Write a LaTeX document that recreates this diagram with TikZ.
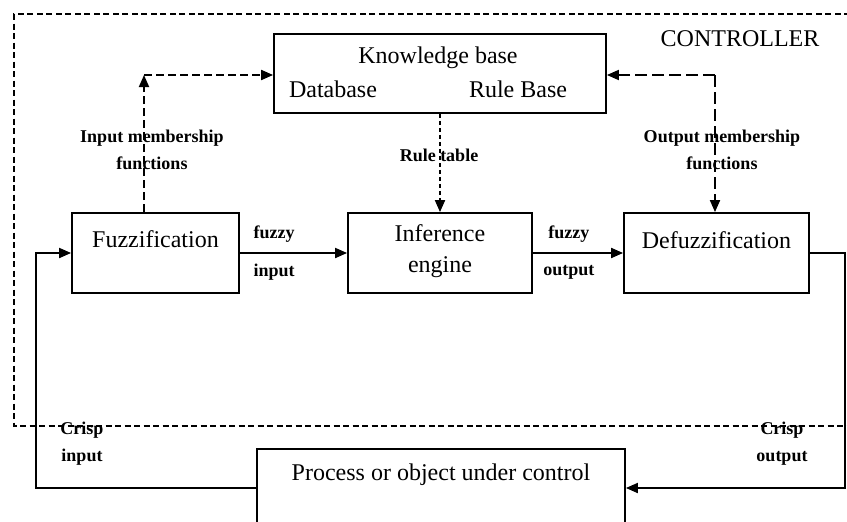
\documentclass[tikz,border=0pt]{standalone}
\usepackage{fontspec}
\setmainfont{Liberation Serif}
\usetikzlibrary{arrows.meta,positioning}
\begin{document}
\begin{tikzpicture}[x=1pt,y=-1pt,
  box/.style={draw, line width=1.8pt, rectangle, inner sep=0pt},
  maintext/.style={font=\fontsize{24}{31}\selectfont, align=center, inner sep=0pt},
  lab/.style={font=\bfseries\fontsize{18}{27}\selectfont, align=center, inner sep=0pt},
  arr/.style={line width=1.8pt, -{Triangle[length=12pt,width=10pt]}},
  ctrlline/.style={line width=1.4pt, dash pattern=on 6pt off 3.5pt},
  dashin/.style={line width=1.8pt, dash pattern=on 8pt off 4pt, -{Triangle[length=12pt,width=10pt]}},
  dashout/.style={line width=1.8pt, dash pattern=on 12pt off 5pt, -{Triangle[length=12pt,width=10pt]}},
  dashrule/.style={line width=1.8pt, dash pattern=on 4pt off 3pt, -{Triangle[length=12pt,width=10pt]}}
]
\useasboundingbox (0,0) rectangle (847,522);
\clip (0,0) rectangle (847,522);
\fill[white] (0,0) rectangle (847,522);

% controller outline
\draw[ctrlline] (850,14) -- (14,14) -- (14,426) -- (850,426);
\node[maintext] (ctrl) at (740,39) {CONTROLLER};

% knowledge base
\node[box, minimum width=332pt, minimum height=79pt] (kb) at (440,73.5) {};
\node[maintext] (kbt) at (438,58) {Knowledge base};
\node[maintext] (dbt) at (333,89) {Database};
\node[maintext] (rbt) at (518,89) {Rule Base};

% main blocks
\node[box, minimum width=167pt, minimum height=80pt] (fuzz) at (155.5,253) {};
\node[maintext] (fuzzt) at (155.5,239) {Fuzzification};
\node[box, minimum width=184pt, minimum height=80pt] (inf) at (440,253) {};
\node[maintext] (inft) at (440,251.5) {Inference\\engine};
\node[box, minimum width=185pt, minimum height=80pt] (defuzz) at (716.5,253) {};
\node[maintext] (defuzzt) at (716.5,240) {Defuzzification};

% process
\node[box, anchor=north, minimum width=368pt, minimum height=150pt] (proc) at (441,448) {};
\node[maintext] (proct) at (441,475) {Process or object under control};

% coordinates
\coordinate (inC) at (144,75);
\coordinate (outC) at (715,75);
\coordinate (inL) at (36,488);
\coordinate (outR) at (845,488);

% membership connectors
\draw[dashin] (inC |- fuzz.north) -- (inC);
\draw[dashin] (inC) -- (kb.west |- inC);
\draw[dashout] (outC) -- (kb.east |- outC);
\draw[dashout] (outC) -- (outC |- defuzz.north);
\draw[dashrule] (kb.south) -- (inf.north);

\node[lab] (inml) at (152,150) {Input membership\\functions};
\node[lab] (outml) at (722,150) {Output membership\\functions};
\node[lab] (rtl) at (439,155) {Rule table};

% main flow
\draw[arr] (fuzz.east) -- node[lab, pos=0.32, yshift=19pt] (fzl) {fuzzy}
                          node[lab, pos=0.32, yshift=-19pt] (inl) {input} (inf.west);
\draw[arr] (inf.east) -- node[lab, pos=0.4, yshift=19pt] (fzo) {fuzzy}
                         node[lab, pos=0.4, yshift=-19pt] (outl) {output} (defuzz.west);

% feedback
\draw[arr] ([yshift=-40pt]proc.north west) -- (inL) |- (fuzz.west);
\draw[arr] (defuzz.east) -| (outR) -- ([yshift=-40pt]proc.north east);

\node[lab] (cin) at (82,444) {Crisp\\input};
\node[lab] (cout) at (782,444) {Crisp\\output};
\end{tikzpicture}
\end{document}
